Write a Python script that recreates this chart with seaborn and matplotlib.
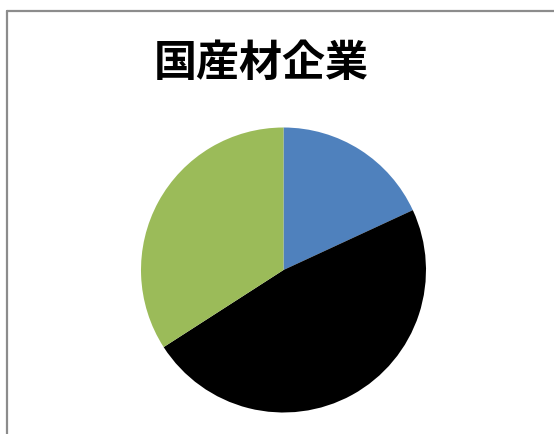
import matplotlib
matplotlib.use("Agg")
import matplotlib.pyplot as plt
from matplotlib.lines import Line2D
import seaborn as sns

# Shares of the three groups (percent)
categories = ["区分A", "区分B", "区分C"]
shares = [18.1, 47.8, 34.1]
colors = ["#4F81BD", "#000000", "#9BBB59"]
title = "国産材企業"

sns.set_theme(style="white")
plt.rcParams["font.family"] = ["Noto Sans CJK JP", "DejaVu Sans"]

W, H = 554, 434
fig = plt.figure(figsize=(W / 100, H / 100), dpi=100)
fig.patch.set_facecolor("white")

# Chart-area frame (left and top edges)
fig.add_artist(Line2D([6.5 / W, 6.5 / W], [0, 1 - 10.5 / H],
                      transform=fig.transFigure, color="#8c8c8c", lw=1.6))
fig.add_artist(Line2D([6.5 / W, 1], [1 - 10.5 / H, 1 - 10.5 / H],
                      transform=fig.transFigure, color="#8c8c8c", lw=1.6))

# Pie axes
cx, cy, r = 283.5, 270, 142.5
ax = fig.add_axes([(cx - r) / W, (H - cy - r) / H, 2 * r / W, 2 * r / H])
ax.pie(shares, labels=None, colors=colors, startangle=90, counterclock=False,
       radius=1.0, wedgeprops=dict(linewidth=0))
ax.set_xlim(-1, 1)
ax.set_ylim(-1, 1)
ax.set_aspect("equal")
ax.axis("off")

fig.text(261 / W, 1 - 63 / H, title, ha="center", va="center",
         fontsize=31, fontweight="bold", color="black")

fig.savefig("out.png", dpi=100, facecolor="white")
